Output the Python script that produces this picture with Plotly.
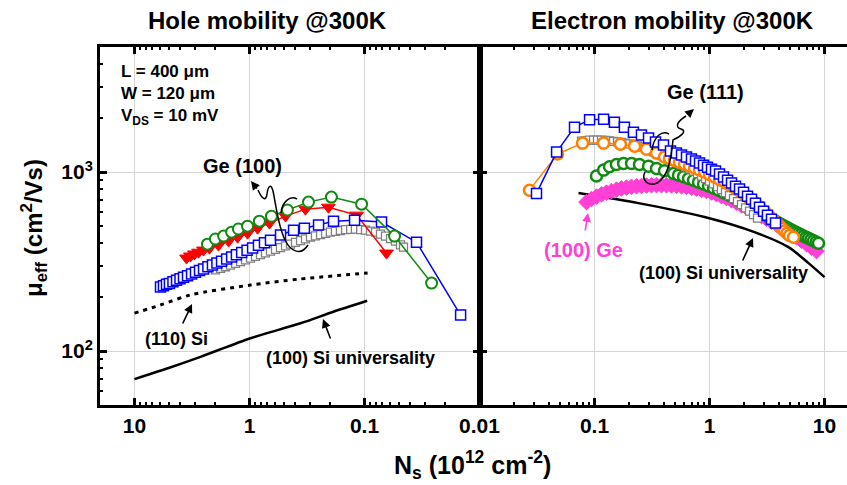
import plotly.graph_objects as go
import math

# ---------------- Hole mobility (left panel) ----------------
hole_blue_ns = [5.94, 5.60, 5.27, 4.97, 4.63, 4.31, 4.02, 3.75, 3.46, 3.19, 2.95, 2.72, 2.51, 2.30,
                2.10, 1.92, 1.75, 1.58, 1.43, 1.30, 1.17, 1.05, 0.94, 0.836, 0.741, 0.657, 0.537,
                0.414, 0.333, 0.251, 0.186, 0.122, 0.0711, 0.0353, 0.0146]
hole_blue_mu = [228, 232, 236, 239, 244, 249, 254, 259, 264, 270, 276, 282, 288, 296,
                303, 311, 318, 327, 336, 345, 355, 366, 377, 390, 403, 416, 445,
                474, 486, 506, 532, 539, 526, 406, 159]

hole_red_ns = [3.53, 3.26, 3.01, 2.77, 2.51, 2.23, 1.86, 1.52, 1.27, 1.04, 0.851, 0.670, 0.486,
               0.326, 0.206, 0.117, 0.0644]
hole_red_mu = [331, 340, 349, 357, 367, 376, 391, 412, 433, 456, 486, 519, 568,
               621, 637, 575, 353]

hole_green_ns = [2.32, 1.98, 1.68, 1.43, 1.25, 1.04, 0.82, 0.644, 0.468, 0.307, 0.194, 0.106, 0.0548, 0.0261]
hole_green_mu = [396, 423, 439, 462, 481, 499, 532, 567, 614, 680, 725, 662, 439, 240]

hole_grey_ns = [1.976, 1.787, 1.617, 1.463, 1.323, 1.197, 1.083, 0.980, 0.887, 0.802, 0.726, 0.657,
                0.594, 0.538, 0.486, 0.440, 0.398, 0.360, 0.326, 0.295, 0.267, 0.241, 0.218, 0.198,
                0.179, 0.162, 0.146, 0.132, 0.120, 0.108, 0.098, 0.0887, 0.0802, 0.0726, 0.0657,
                0.0594, 0.0538, 0.0486, 0.0458]
hole_grey_mu = [284, 290, 296, 302, 309, 316, 323, 331, 338, 346, 354, 362,
                370, 379, 387, 396, 405, 414, 424, 434, 440, 448, 455, 462,
                467, 472, 477, 479, 480, 477, 474, 468, 462, 450, 439,
                425, 412, 392, 381]

si110_ns = [10, 5.94, 3.26, 0.98, 0.36, 0.094]
si110_mu = [163, 181, 206, 234, 253, 273]

si100_hole_ns = [10, 5.2, 2.67, 0.98, 0.36, 0.186, 0.0948]
si100_hole_mu = [69.8, 80.0, 92.9, 118, 143, 166, 191]

# ---------------- Electron mobility (right panel) ----------------
elec_blue_ns = [0.0313, 0.0468, 0.067, 0.0906, 0.120, 0.149, 0.182, 0.218, 0.256, 0.295, 0.339, 0.398,
                0.458, 0.516, 0.571, 0.631, 0.697, 0.756, 0.819, 0.887, 0.961, 1.041, 1.128, 1.222,
                1.324, 1.435, 1.554, 1.684, 1.824, 1.976, 2.14, 2.32, 2.51, 2.72, 2.95, 3.19, 3.46, 3.75]
elec_blue_mu = [760, 1294, 1783, 1960, 1977, 1901, 1783, 1671, 1610, 1549, 1471, 1416,
                1310, 1277, 1245, 1213, 1182, 1152, 1123, 1094, 1066, 1039, 1013, 975,
                938, 902, 868, 835, 804, 773, 734, 706, 671, 637, 605, 575, 546, 519]

elec_orange_ns = [0.0272, 0.0477, 0.0787, 0.120, 0.168, 0.223, 0.283, 0.346, 0.406,
                  0.449, 0.496, 0.548, 0.606, 0.670, 0.741, 0.819, 0.905, 1.0, 1.105,
                  1.222, 1.35, 1.493, 1.65, 1.824, 2.015, 2.228, 2.46, 2.72, 3.01,
                  3.32, 3.67, 3.86, 4.06, 4.27, 4.49, 4.72, 4.96, 5.37]
elec_orange_mu = [793, 1261, 1452, 1452, 1433, 1397, 1344, 1277, 1213,
                  1190, 1160, 1135, 1110, 1082, 1055, 1028, 1000, 970, 940,
                  910, 881, 848, 816, 782, 749, 713, 678, 640, 604,
                  567, 532, 516, 500, 484, 469, 455, 442, 433]

elec_grey_ns = [0.0771, 0.0835, 0.0905, 0.0982, 0.1062, 0.1151, 0.1247, 0.1350, 0.1463, 0.1585,
                0.1717, 0.1861, 0.2015, 0.2183, 0.2366, 0.2563, 0.2777, 0.3008, 0.3258, 0.3530,
                0.3825, 0.4143, 0.4489, 0.4864, 0.5269, 0.5709, 0.6185, 0.6700, 0.7260, 0.7865,
                0.8520, 0.9231, 1.0, 1.083, 1.174, 1.271, 1.377, 1.492, 1.617, 1.752,
                1.898, 2.056, 2.228, 2.414, 2.615]
elec_grey_mu = [1490, 1500, 1510, 1510, 1510, 1510, 1503, 1496, 1486, 1477,
                1465, 1452, 1437, 1420, 1401, 1379, 1353, 1327, 1297, 1266,
                1237, 1208, 1182, 1152, 1126, 1101, 1071, 1042, 1013, 981,
                950, 920, 891, 859, 830, 798, 768, 739, 711, 684,
                658, 632, 605, 579, 553]

elec_green_ns = [0.104, 0.120, 0.135, 0.155, 0.179, 0.210, 0.246, 0.295, 0.346, 0.406, 0.486,
                 0.5376, 0.5941, 0.6569, 0.7260, 0.8023, 0.8867, 0.9802, 1.083, 1.197, 1.323,
                 1.463, 1.617, 1.787, 1.976, 2.183, 2.414, 2.668, 2.949, 3.260, 3.602,
                 3.79, 3.981, 4.19, 4.400, 4.63, 4.864, 5.11, 5.375, 5.65, 5.941, 6.25,
                 6.568, 6.90, 7.259, 7.63, 8.023, 8.44, 8.867]
elec_green_mu = [950, 1026, 1071, 1104, 1119, 1119, 1104, 1080, 1049, 1017, 983,
                 962, 941, 921, 900, 879, 859, 837, 815, 791, 768,
                 744, 719, 695, 670, 646, 624, 603, 581, 559, 539,
                 529, 520, 511, 502, 493, 485, 477, 469, 461, 454, 447,
                 440, 433, 427, 420, 414, 407, 401]

ge100_elec_ns = [0.0852, 0.0942, 0.1041, 0.1151, 0.1272, 0.1405, 0.1553, 0.1717, 0.1898, 0.2098,
                 0.2318, 0.2563, 0.2833, 0.3131, 0.3460, 0.3825, 0.4227, 0.4672, 0.5164, 0.5709,
                 0.6310, 0.6974, 0.7707, 0.8520, 0.9417, 1.041, 1.150, 1.271, 1.405, 1.553,
                 1.717, 1.898, 2.098, 2.318, 2.563, 2.833, 3.131, 3.460, 3.825, 4.227,
                 4.672, 5.164, 5.709, 6.310, 6.974, 7.707, 8.520]
ge100_elec_mu = [680, 707, 730, 751, 768, 783, 798, 811, 819, 827,
                 833, 837, 842, 845, 846, 846, 845, 843, 838, 833,
                 827, 818, 809, 797, 784, 769, 753, 734, 716, 696,
                 675, 653, 632, 610, 589, 568, 548, 528, 509, 490,
                 471, 452, 433, 414, 396, 379, 362]

si100_elec_ns = [0.0726, 0.241, 0.905, 2.46, 4.86, 7.26, 10]
si100_elec_mu = [764, 671, 561, 462, 381, 310, 259]

# x tick labels of both panels
left_ticks = [10, 1, 0.1, 0.01]
left_ticktext = ["10", "1", "0.1", "0.01"]
right_ticks = [0.1, 1, 10]
right_ticktext = ["0.1", "1", "10"]
y_ticks = [100, 1000]
y_ticktext = ["10<sup>2</sup>", "10<sup>3</sup>"]

# ---------------- figure layout geometry ----------------
W, H = 847, 485
ML, MR, MT, MB = 100, 0, 47, 80
PW, PH = W - ML - MR, H - MT - MB
SPLIT = 479.5          # pixel x of the shared panel border
DEC = 115.0            # pixels per decade on the Ns axes

FONT = "Liberation Sans, Arial, sans-serif"
MAGENTA = "#ff3fd6"
GREEN = "#118a11"


def paper(xp, yp):
    return (xp - ML) / PW, (H - MB - yp) / PH


def path(cmds):
    out = []
    for c in cmds:
        if isinstance(c, str):
            out.append(c)
        else:
            px, py = paper(*c)
            out.append(f"{px:.5f},{py:.5f}")
    return " ".join(out)


fig = go.Figure()


def series(x, y, color, symbol, size, xa, ya, fill="white", lw=1.5, mlw=1.5):
    fig.add_trace(go.Scatter(
        x=x, y=y, mode="lines+markers", xaxis=xa, yaxis=ya,
        line=dict(color=color, width=lw),
        marker=dict(symbol=symbol, size=size, color=fill,
                    line=dict(color=color, width=mlw)),
        showlegend=False, hoverinfo="skip"))


def curve(x, y, xa, ya, dash="solid", width=2.5):
    fig.add_trace(go.Scatter(
        x=x, y=y, mode="lines", xaxis=xa, yaxis=ya,
        line=dict(color="black", width=width, dash=dash, shape="spline", smoothing=0.8),
        showlegend=False, hoverinfo="skip"))


# left panel
curve(si110_ns, si110_mu, "x", "y", dash="4px,5px", width=3)
curve(si100_hole_ns, si100_hole_mu, "x", "y")
series(hole_grey_ns, hole_grey_mu, "#808080", "square", 8, "x", "y", lw=1, mlw=1.3)
series(hole_red_ns, hole_red_mu, "#ff0000", "triangle-down", 12, "x", "y", fill="#ff0000", mlw=1)
series(hole_blue_ns, hole_blue_mu, "#0000ff", "square", 10, "x", "y")
series(hole_green_ns, hole_green_mu, GREEN, "circle", 11, "x", "y", mlw=2)

# right panel
curve(si100_elec_ns, si100_elec_mu, "x2", "y2")
series(ge100_elec_ns, ge100_elec_mu, MAGENTA, "diamond", 12, "x2", "y2", fill=MAGENTA, mlw=1)
series(elec_green_ns, elec_green_mu, GREEN, "circle", 11, "x2", "y2", mlw=2.5)
series(elec_grey_ns, elec_grey_mu, "#808080", "square", 8, "x2", "y2", lw=1, mlw=1.3)
series(elec_orange_ns, elec_orange_mu, "#ff8000", "circle", 11, "x2", "y2", mlw=2.5)
series(elec_blue_ns, elec_blue_mu, "#0000ff", "square", 10, "x2", "y2")

axis_common = dict(
    type="log", showline=True, linewidth=3, linecolor="black",
    ticks="inside", ticklen=7, tickwidth=3, tickcolor="black",
    showgrid=True, gridcolor="#d4d4d4", gridwidth=1, zeroline=False,
    automargin=False,
    tickfont=dict(family=FONT, size=21, color="black", weight="bold"),
    minor=dict(ticks="inside", ticklen=3, tickwidth=2, tickcolor="black",
               dtick="D1", showgrid=False),
)

x1_dom = (SPLIT - ML) / PW
fig.update_layout(
    width=W, height=H, autosize=False,
    margin=dict(l=ML, r=MR, t=MT, b=MB, autoexpand=False),
    paper_bgcolor="white", plot_bgcolor="white",
    font=dict(family=FONT, color="black"),
    xaxis=dict(axis_common, domain=[0, x1_dom], anchor="y",
               range=[-2 + (SPLIT - ML) / DEC, -2],
               tickmode="array", tickvals=left_ticks, ticktext=left_ticktext,
               mirror="ticks"),
    xaxis2=dict(axis_common, domain=[x1_dom, 1], anchor="y2",
                range=[-2, -2 + (W - MR - SPLIT) / DEC],
                tickmode="array", tickvals=right_ticks, ticktext=right_ticktext,
                mirror="ticks"),
    yaxis=dict(axis_common, domain=[0, 1], anchor="x",
               range=[math.log10(50), math.log10(5000)],
               tickmode="array", tickvals=y_ticks, ticktext=y_ticktext,
               mirror="ticks"),
    yaxis2=dict(axis_common, domain=[0, 1], anchor="x2",
                range=[math.log10(50), math.log10(5000)],
                tickmode="array", tickvals=y_ticks, showticklabels=False,
                mirror=False),
)


def text(xp, yp, s, size, color="black", xanchor="center", angle=0):
    px, py = paper(xp, yp)
    fig.add_annotation(x=px, y=py, xref="paper", yref="paper", text=f"<b>{s}</b>",
                       showarrow=False, xanchor=xanchor, yanchor="middle",
                       textangle=angle,
                       font=dict(family=FONT, size=size, color=color))


def arrow(head, tail, color="black"):
    px, py = paper(*head)
    fig.add_annotation(x=px, y=py, xref="paper", yref="paper", text="",
                       showarrow=True, axref="pixel", ayref="pixel",
                       ax=tail[0] - head[0], ay=tail[1] - head[1],
                       arrowhead=2, arrowsize=1.1, arrowwidth=1.6, arrowcolor=color)


# titles and axis titles
text(267, 20, "Hole mobility @300K", 24)
text(672, 20, "Electron mobility @300K", 24)
text(472, 465, "N<sub>s</sub> (10<sup>12</sup> cm<sup>-2</sup>)", 25)
text(34, 228, "μ<sub>eff</sub> (cm<sup>2</sup>/Vs)", 24, angle=-90)

# device conditions
text(119, 72, "L = 400 μm", 17, xanchor="left")
text(119, 94, "W = 120 μm", 17, xanchor="left")
text(119, 117, "V<sub>DS</sub> = 10 mV", 17, xanchor="left")

# curve labels
text(242, 166, "Ge (100)", 20)
text(176, 339, "(110) Si", 18)
text(350, 358, "(100) Si universality", 18)
text(705, 92, "Ge (111)", 20)
text(583, 250, "(100) Ge", 20, color=MAGENTA)
text(723, 273, "(100) Si universality", 18)

arrow((192, 304), (182, 325))
arrow((323, 319), (331, 340))
arrow((588, 213), (585, 232), color=MAGENTA)
arrow((753, 238), (742, 262))
arrow((251, 181), (258, 190))
arrow((694, 109), (686, 116))

# wavy leaders and loops grouping the Ge curves
loops = [
    ["M", (258, 190), "C", (262, 199), (266, 202), (267, 194),
     "C", (268, 186), (271, 183), (273, 191),
     "C", (276, 205), (278, 226), (285, 240),
     "C", (291, 252), (301, 256), (308, 245)],
    ["M", (281, 213), "C", (282, 202), (290, 195), (297, 199)],
    ["M", (686, 116), "C", (678, 121), (674, 127), (681, 129),
     "C", (688, 131), (680, 137), (673, 140),
     "C", (671, 160), (668, 177), (657, 183),
     "C", (648, 187), (641, 180), (645, 172)],
    ["M", (652, 150), "C", (654, 136), (662, 130), (669, 134)],
]
for lp in loops:
    fig.add_shape(type="path", xref="paper", yref="paper", path=path(lp),
                  line=dict(color="black", width=1.5))

page_fix = ("document.documentElement.style.overflow='hidden';"
            "document.body.style.margin='0';document.body.style.overflow='hidden';")

fig.write_html("out.html", config={"responsive": False}, post_script=page_fix)
